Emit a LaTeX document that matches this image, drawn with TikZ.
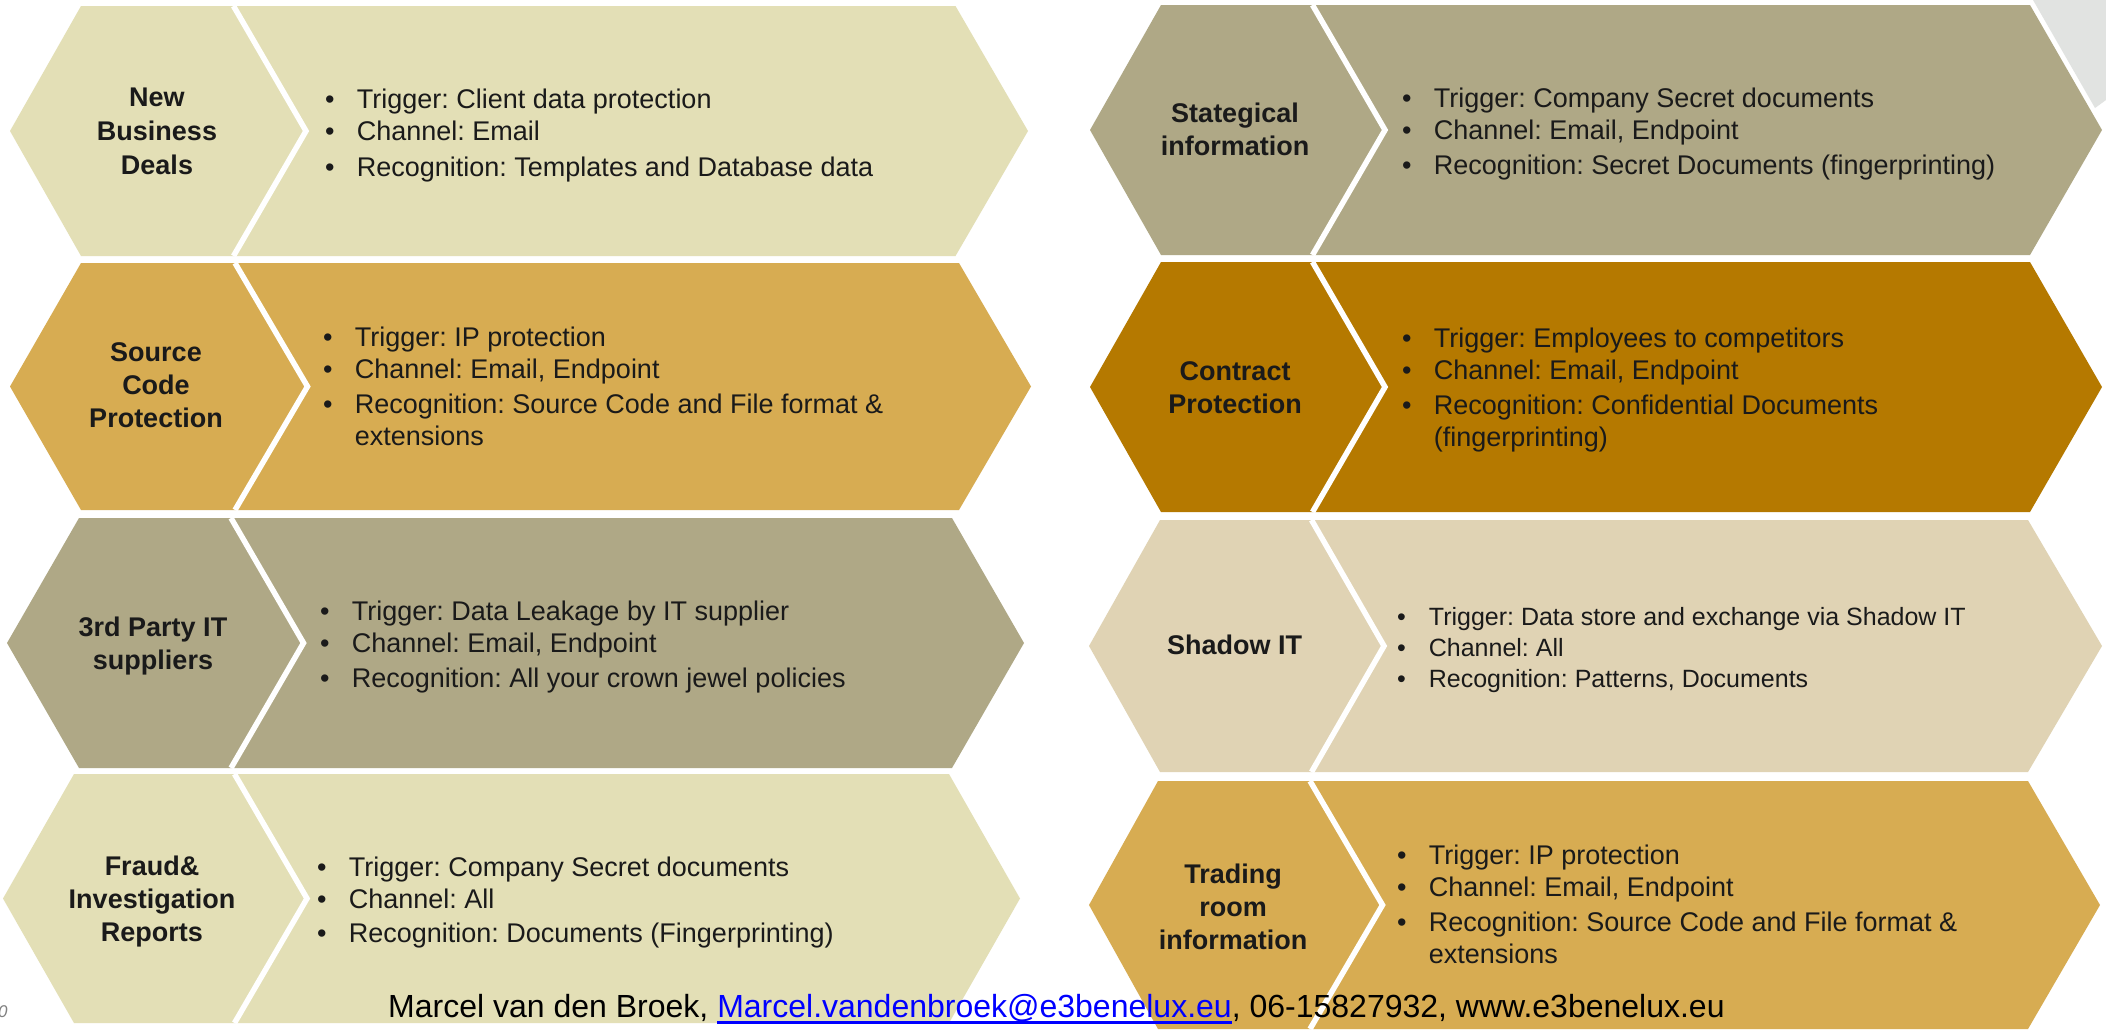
\documentclass[tikz,border=0pt]{standalone}
\usepackage{fontspec}
\setmainfont{Liberation Sans}
\frenchspacing
\definecolor{cla}{HTML}{E3DFB6}
\definecolor{cgold}{HTML}{D7AC52}
\definecolor{ckhaki}{HTML}{AFA886}
\definecolor{cdark}{HTML}{B57900}
\definecolor{cbeige}{HTML}{E0D3B4}
\definecolor{cgrey}{HTML}{E1E3E1}
\definecolor{txt}{HTML}{1A1A1A}
\definecolor{linkblue}{HTML}{0000FF}
\newsavebox\ulbox
\newcommand\ulink[1]{\sbox\ulbox{#1}\rlap{\rule[-6pt]{\wd\ulbox}{2.5pt}}\usebox\ulbox}
\newcommand\bul{\strut\makebox[31.7pt][l]{\textbullet}}
\newcommand\cont{\strut\hspace*{31.7pt}}
\newcommand\rowshapes[9]{%
  \pgfmathsetmacro\yc{(#8+#9)/2}%
  \fill[#1] (#2,\yc) -- (#3,#8) -- (#4,#8) -- (#5,\yc) -- (#4,#9) -- (#3,#9) -- cycle;
  \fill[#1] (#4,#8) -- (#6,#8) -- (#7,\yc) -- (#6,#9) -- (#4,#9) -- (#5,\yc) -- cycle;
  \draw[sepline] (#4,#8) -- (#5,\yc) -- (#4,#9);
}
\begin{document}
\begin{tikzpicture}[x=1pt,y=-1pt,
  sepline/.style={white, line width=5.5pt, line join=miter},
  title/.style={align=center, inner sep=0pt, text=txt, font=\bfseries\fontsize{27}{33}\selectfont},
  body/.style={anchor=north west, inner sep=0pt, align=left, text=txt, font=\fontsize{27}{32}\selectfont},
  bodysmall/.style={body, font=\fontsize{25}{31}\selectfont}]
\fill[white] (0,0) rectangle (2106,1029);
\useasboundingbox (0,0) rectangle (2106,1029);
% grey corner
\fill[cgrey] (2033,0) -- (2106,0) -- (2106,100) -- (2095,108) -- cycle;
% left column
\rowshapes{cla}{10}{81}{233.5}{306}{955.5}{1028}{6}{256}
\rowshapes{cgold}{10}{81}{235}{307.5}{959}{1031}{263}{510}
\rowshapes{ckhaki}{7}{79}{231}{303.5}{952}{1024}{518}{768}
\rowshapes{cla}{3}{74}{234.5}{307}{949}{1020}{774}{1023}
% right column
\rowshapes{ckhaki}{1090}{1161}{1312.5}{1385}{2030}{2102}{5}{255}
\rowshapes{cdark}{1090}{1161}{1312.5}{1385}{2030}{2102}{262}{512}
\rowshapes{cbeige}{1089}{1160}{1311.5}{1384}{2028}{2102}{520}{772}
\rowshapes{cgold}{1089}{1158}{1310}{1382.5}{2028}{2100}{781}{1029}
% titles
\node[title] (t1) at (157,131.3) {New\\[1pt]Business\\[1pt]Deals};
\node[title] (t2) at (156,385.3) {Source\\Code\\Protection};
\node[title] (t3) at (153,646) {3rd Party IT\\suppliers};
\node[title] (t4) at (152,902) {Fraud\&\\Investigation\\Reports};
\node[title] (t5) at (1235,129.8) {Stategical\\information};
\node[title] (t6) at (1235,387.8) {Contract\\Protection};
\node[title] (t7) at (1234.5,645) {Shadow IT};
\node[title] (t8) at (1233,907) {Trading\\room\\information};
% bodies
\node[body] (b1) at (325,85.6) {\bul Trigger: Client data protection\\
  \bul Channel: Email\\[4pt]
  \bul Recognition: Templates and Database data};
\node[body] (b2) at (323,323.6) {\bul Trigger: IP protection\\
  \bul Channel: Email, Endpoint\\[3pt]
  \bul Recognition: Source Code and File format \&\\
  \cont extensions};
\node[body] (b3) at (320,597.6) {\bul Trigger: Data Leakage by IT supplier\\
  \bul Channel: Email, Endpoint\\[3pt]
  \bul Recognition: All your crown jewel policies};
\node[body] (b4) at (317,853.6) {\bul Trigger: Company Secret documents\\
  \bul Channel: All\\[2pt]
  \bul Recognition: Documents (Fingerprinting)};
\node[body] (b5) at (1402,84.6) {\bul Trigger: Company Secret documents\\
  \bul Channel: Email, Endpoint\\[3pt]
  \bul Recognition: Secret Documents (fingerprinting)};
\node[body] (b6) at (1402,324.6) {\bul Trigger: Employees to competitors\\
  \bul Channel: Email, Endpoint\\[3pt]
  \bul Recognition: Confidential Documents\\
  \cont (fingerprinting)};
\node[bodysmall] (b7) at (1397,603.3) {\bul Trigger: Data store and exchange via Shadow IT\\
  \bul Channel: All\\
  \bul Recognition: Patterns, Documents};
\node[body] (b8) at (1397,841.6) {\bul Trigger: IP protection\\
  \bul Channel: Email, Endpoint\\[3.5pt]
  \bul Recognition: Source Code and File format \&\\
  \cont extensions};
% footer
\node[anchor=base west, inner sep=0pt, text=black, font=\fontsize{32}{38}\selectfont] (footer) at (388,1017.5)
  {Marcel van den Broek, \textcolor{linkblue}{\ulink{Marcel.vandenbroek@e3benelux.eu}}, 06-15827932, www.e3benelux.eu};
\node[anchor=base west, inner sep=0pt, text=gray, font=\itshape\fontsize{17}{20}\selectfont] (pg) at (-2,1017) {0};
\end{tikzpicture}
\end{document}
